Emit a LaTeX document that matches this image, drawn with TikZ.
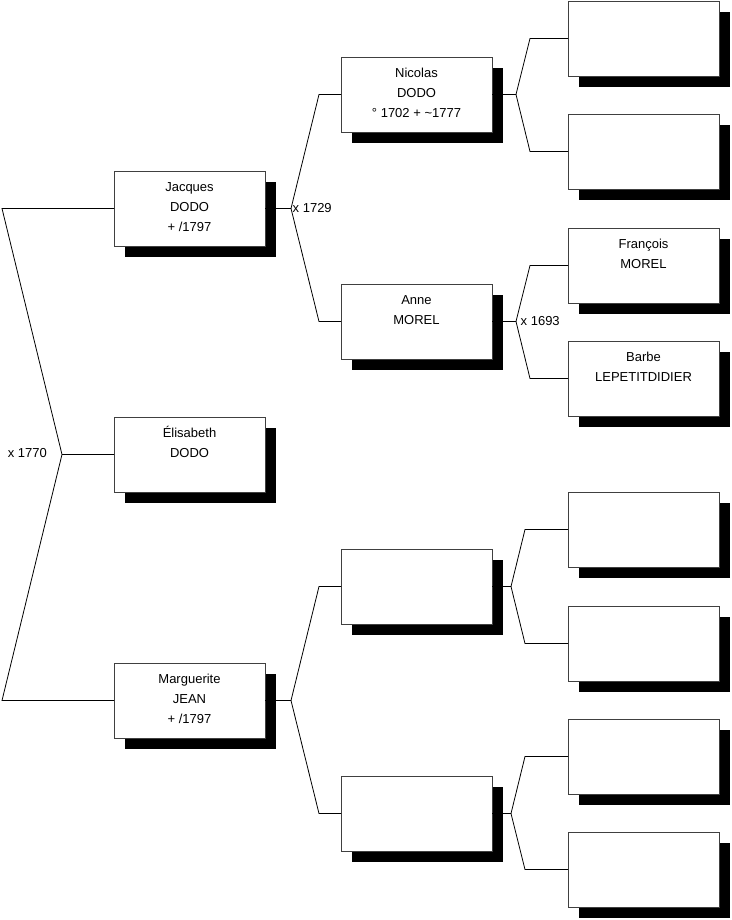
\documentclass[tikz,border=0pt]{standalone}
\usepackage{fontspec}
\setmainfont{Liberation Sans}
\usetikzlibrary{shadows}
\newcommand{\boxtext}[1]{\parbox[c][75pt][t]{151pt}{\centering\rule{0pt}{20.5pt}#1\par}}
\tikzset{
  pbox/.style={draw=black!75, fill=white, line width=0.8pt, inner sep=0pt, outer sep=0pt,
    anchor=north west, font=\fontsize{13}{20}\selectfont,
    drop shadow={shadow xshift=11pt, shadow yshift=-11pt, opacity=1, fill=black}},
  conn/.style={draw=black, line width=0.8pt},
  lbl/.style={font=\fontsize{13}{15}\selectfont, inner sep=0pt}
}
\begin{document}
\begin{tikzpicture}[x=1pt,y=-1pt]
\useasboundingbox[fill=white] (0,0) rectangle (731,920);
% generation 1
\node[pbox] (jacques) at (114,171) {\boxtext{Jacques\\DODO\\+ /1797}};
\node[pbox] (eli) at (114,417) {\boxtext{Élisabeth\\DODO}};
\node[pbox] (marg) at (114,663) {\boxtext{Marguerite\\JEAN\\+ /1797}};
% generation 2
\node[pbox] (nicolas) at (341,57) {\boxtext{Nicolas\\DODO\\° 1702 + \textasciitilde1777}};
\node[pbox] (anne) at (341,284) {\boxtext{Anne\\MOREL}};
\node[pbox] (m1) at (341,549) {\boxtext{}};
\node[pbox] (m2) at (341,776) {\boxtext{}};
% generation 3
\node[pbox] (n1) at (568,1) {\boxtext{}};
\node[pbox] (n2) at (568,114) {\boxtext{}};
\node[pbox] (francois) at (568,228) {\boxtext{François\\MOREL}};
\node[pbox] (barbe) at (568,341) {\boxtext{Barbe\\LEPETITDIDIER}};
\node[pbox] (m11) at (568,492) {\boxtext{}};
\node[pbox] (m12) at (568,606) {\boxtext{}};
\node[pbox] (m21) at (568,719) {\boxtext{}};
\node[pbox] (m22) at (568,832) {\boxtext{}};
% root connector
\coordinate (r1) at (2,208.5);
\coordinate (r0) at (62,454.5);
\coordinate (r2) at (2,700.5);
\draw[conn] (jacques.west) -- (r1) -- (r0) -- (r2) -- (marg.west);
\draw[conn] (r0) -- (eli.west);
\node[lbl, anchor=east] (l1770) at (47,453) {x 1770};
% Jacques fork
\coordinate (jv) at (291,208.5);
\coordinate (ja) at (319,94.5);
\coordinate (jb) at (319,321.5);
\draw[conn] (jacques.east) -- (jv) -- (ja) -- (nicolas.west);
\draw[conn] (jv) -- (jb) -- (anne.west);
\node[lbl, anchor=west] (l1729) at (292.5,208.5) {x 1729};
% Marguerite fork
\coordinate (mv) at (291,700.5);
\coordinate (ma) at (319,586.5);
\coordinate (mb) at (319,813.5);
\draw[conn] (marg.east) -- (mv) -- (ma) -- (m1.west);
\draw[conn] (mv) -- (mb) -- (m2.west);
% Nicolas fork
\coordinate (nv) at (516,94.5);
\coordinate (na) at (530,38.5);
\coordinate (nb) at (530,151.5);
\draw[conn] (nicolas.east) -- (nv) -- (na) -- (n1.west);
\draw[conn] (nv) -- (nb) -- (n2.west);
% Anne fork
\coordinate (av) at (516,321.5);
\coordinate (aa) at (530,265.5);
\coordinate (ab) at (530,378.5);
\draw[conn] (anne.east) -- (av) -- (aa) -- (francois.west);
\draw[conn] (av) -- (ab) -- (barbe.west);
\node[lbl, anchor=west] (l1693) at (520.5,321.5) {x 1693};
% m1 fork
\coordinate (av1) at (511,586.5);
\coordinate (aa1) at (525,529.5);
\coordinate (ab1) at (525,643.5);
\draw[conn] (m1.east) -- (av1) -- (aa1) -- (m11.west);
\draw[conn] (av1) -- (ab1) -- (m12.west);
% m2 fork
\coordinate (av2) at (511,813.5);
\coordinate (aa2) at (525,756.5);
\coordinate (ab2) at (525,869.5);
\draw[conn] (m2.east) -- (av2) -- (aa2) -- (m21.west);
\draw[conn] (av2) -- (ab2) -- (m22.west);
\end{tikzpicture}
\end{document}
